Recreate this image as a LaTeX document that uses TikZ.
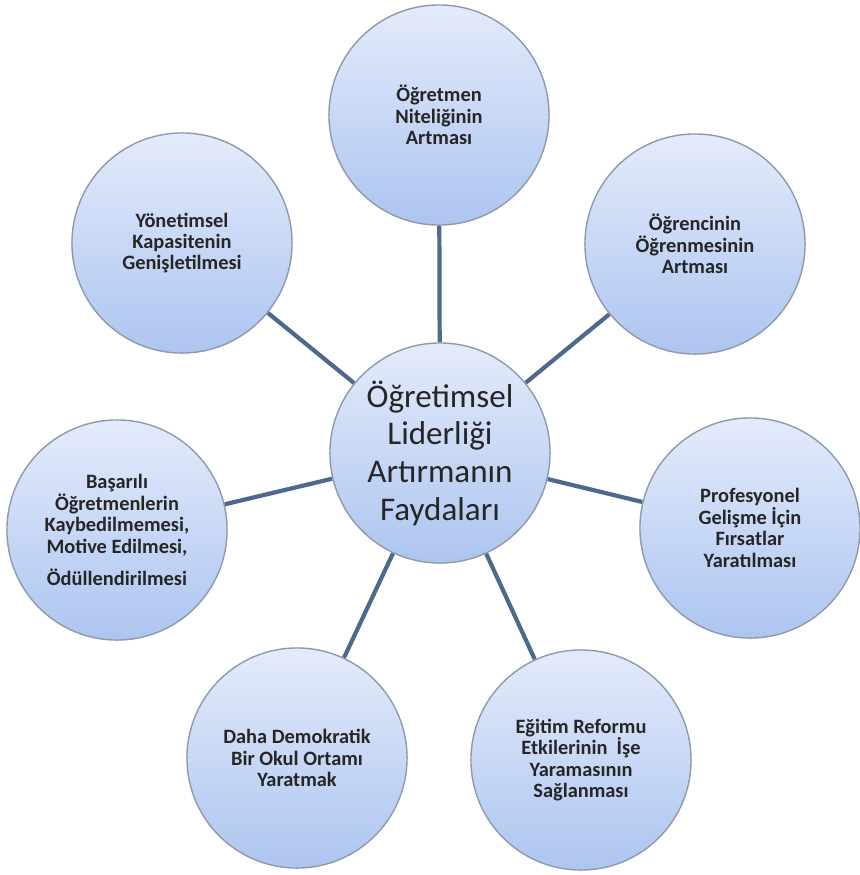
\documentclass[tikz,border=0pt]{standalone}
\usepackage{fontspec}
\setmainfont{Carlito}
\usetikzlibrary{backgrounds}

\definecolor{ballTop}{HTML}{E4EBFB}
\definecolor{ballBottom}{HTML}{ACC5F0}
\definecolor{ballRim}{HTML}{8E9AAC}
\definecolor{spokeBlue}{HTML}{4D6A8C}

\tikzset{
  ball/.style={circle, draw=ballRim, line width=0.4pt, top color=ballTop, bottom color=ballBottom,
    align=center, inner sep=0pt, minimum size=2.2cm, text=black!85},
  leaf/.style={ball, font=\bfseries\fontsize{5.8}{6.1}\selectfont},
  hub/.style={ball, font=\fontsize{9.4}{10.7}\selectfont},
  spoke/.style={draw=spokeBlue, line width=1.2pt}
}

\begin{document}
\begin{tikzpicture}[x=0.01cm, y=-0.01cm]
\useasboundingbox (0,0) rectangle (859,875);
\node [hub] (hub) at (440,453) {Öğretimsel\\Liderliği\\Artırmanın\\Faydaları};
\node [leaf] (ogretmen) at (439,115) {Öğretmen\\Niteliğinin\\Artması};
\node [leaf] (ogrenci) at (695,244) {Öğrencinin\\Öğrenmesinin\\Artması};
\node [leaf] (gelisme) at (750,528) {Profesyonel\\Gelişme İçin\\Fırsatlar\\Yaratılması};
\node [leaf] (reform) at (581,760) {Eğitim Reformu\\Etkilerinin \ İşe\\Yaramasının\\Sağlanması};
\node [leaf] (okul) at (297,758) {Daha Demokratik\\Bir Okul Ortamı\\Yaratmak};
\node [leaf] (basari) at (117,530) {Başarılı\\Öğretmenlerin\\Kaybedilmemesi,\\Motive Edilmesi,\\[3pt]Ödüllendirilmesi};
\node [leaf] (yonetim) at (182,243) {Yönetimsel\\Kapasitenin\\Genişletilmesi};
\begin{scope}[on background layer]
\draw [spoke] (hub) -- (ogretmen);
\draw [spoke] (hub) -- (ogrenci);
\draw [spoke] (hub) -- (gelisme);
\draw [spoke] (hub) -- (reform);
\draw [spoke] (hub) -- (okul);
\draw [spoke] (hub) -- (basari);
\draw [spoke] (hub) -- (yonetim);
\end{scope}
\end{tikzpicture}
\end{document}
